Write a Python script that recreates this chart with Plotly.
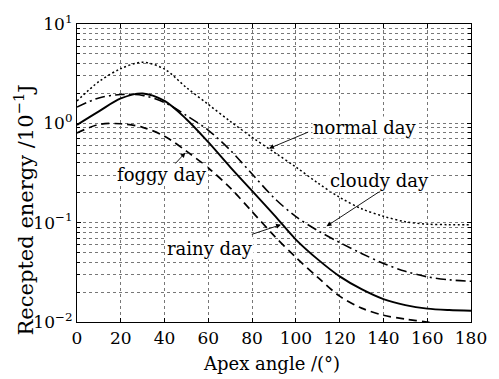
import math
import plotly.graph_objects as go

# ---- data ----
apex_angle = [0, 10, 20, 30, 40, 50, 60, 70, 80, 90, 100, 110, 120, 130, 140, 150, 160, 170, 180]
normal_day = [1.68, 2.63, 3.55, 4.12, 3.51, 2.29, 1.55, 1.047, 0.724, 0.513, 0.363, 0.251, 0.180,
              0.138, 0.116, 0.102, 0.0966, 0.0955, 0.0955]
cloudy_day = [1.46, 1.80, 1.95, 1.91, 1.62, 1.20, 0.851, 0.537, 0.309, 0.178, 0.115, 0.0832, 0.0631,
              0.0490, 0.0389, 0.0324, 0.0285, 0.0266, 0.0257]
rainy_day = [0.966, 1.32, 1.78, 2.0, 1.68, 1.10, 0.646, 0.363, 0.209, 0.120, 0.0676, 0.0427, 0.0288,
             0.0214, 0.0170, 0.0148, 0.01365, 0.0132, 0.0130]
foggy_day = [0.80, 0.975, 0.99, 0.912, 0.741, 0.525, 0.355, 0.224, 0.129, 0.0741, 0.0447, 0.0282,
             0.0182, 0.0138, 0.0117, 0.0107, 0.0100, 0.0095, 0.0093]

x_ticks = [0, 20, 40, 60, 80, 100, 120, 140, 160, 180]
y_ticks = [0.01, 0.1, 1, 10]
y_tick_text = ["10<sup>−2</sup>", "10<sup>−1</sup>", "10<sup>0</sup>", "10<sup>1</sup>"]
y_minor = [k * 10 ** e for e in (-2, -1, 0) for k in range(2, 10)]

# labels: (text, text position, arrow tail, arrow tip) in (angle, energy)
labels = [
    ("normal day", (131.6, 0.908), (106.3, 0.828), (87.7, 0.558)),
    ("cloudy day", (138.3, 0.265), (139.7, 0.216), (114.0, 0.092)),
    ("foggy day", (38.9, 0.303), (41.8, 0.331), (49.5, 0.507)),
    ("rainy day", (60.8, 0.0551), (79.2, 0.0754), (93.2, 0.0955)),
]

FONT = "DejaVu Serif"
fig = go.Figure()

series = [
    (normal_day, "2px,2.5px", 1.5),
    (cloudy_day, "10px,4px,2px,4px", 1.6),
    (rainy_day, "solid", 1.9),
    (foggy_day, "8px,5px", 1.7),
]
for ys, dash, w in series:
    fig.add_trace(go.Scatter(x=apex_angle, y=ys, mode="lines",
                             line=dict(color="black", width=w, dash=dash, shape="spline", smoothing=0.9),
                             showlegend=False, hoverinfo="skip"))

annotations = []
for text, tpos, tail, tip in labels:
    annotations.append(dict(x=tip[0], y=math.log10(tip[1]), ax=tail[0], ay=math.log10(tail[1]),
                            xref="x", yref="y", axref="x", ayref="y", text="", showarrow=True,
                            arrowhead=2, arrowsize=1.1, arrowwidth=0.9, arrowcolor="black", standoff=0,
                            startstandoff=0))
    annotations.append(dict(x=tpos[0], y=math.log10(tpos[1]), xref="x", yref="y", text=text,
                            showarrow=False, font=dict(family=FONT, size=18, color="black"),
                            bgcolor="white", borderpad=0, xanchor="center", yanchor="middle"))

annotations.append(dict(x=-0.135, y=0.377, xref="paper", yref="paper",
                        text="Recepted energy /10<sup>−1</sup>J", textangle=-90, showarrow=False,
                        font=dict(family=FONT, size=21, color="black"), xanchor="center", yanchor="middle"))
annotations.append(dict(x=0.4925, y=-0.14, xref="paper", yref="paper", text="Apex angle /(°)",
                        showarrow=False, font=dict(family=FONT, size=18, color="black"),
                        xanchor="center", yanchor="middle"))

grid = dict(showgrid=True, gridcolor="#777777", griddash="dot", gridwidth=1)
fig.update_layout(
    width=499, height=379,
    margin=dict(l=77, r=23, t=14, b=57),
    paper_bgcolor="white", plot_bgcolor="white",
    font=dict(family=FONT, size=17, color="black"),
    annotations=annotations,
    xaxis=dict(range=[0, 180], tickmode="array", tickvals=x_ticks, ticks="inside", ticklen=4,
               tickcolor="black", showline=True, linecolor="black", linewidth=1.2, mirror="ticks",
               zeroline=False, tickfont=dict(size=17), **grid),
    yaxis=dict(type="log", range=[-2, 1], tickmode="array", tickvals=y_ticks, ticktext=y_tick_text,
               ticks="inside", ticklen=4, tickcolor="black", showline=True, linecolor="black",
               linewidth=1.2, mirror="ticks", zeroline=False, tickfont=dict(size=17),
               minor=dict(tickmode="array", tickvals=y_minor, showgrid=True, gridcolor="#777777",
                          griddash="dot", gridwidth=1, ticks="inside", ticklen=3, tickcolor="black"),
               **grid),
)
fig.write_html("out.html")
